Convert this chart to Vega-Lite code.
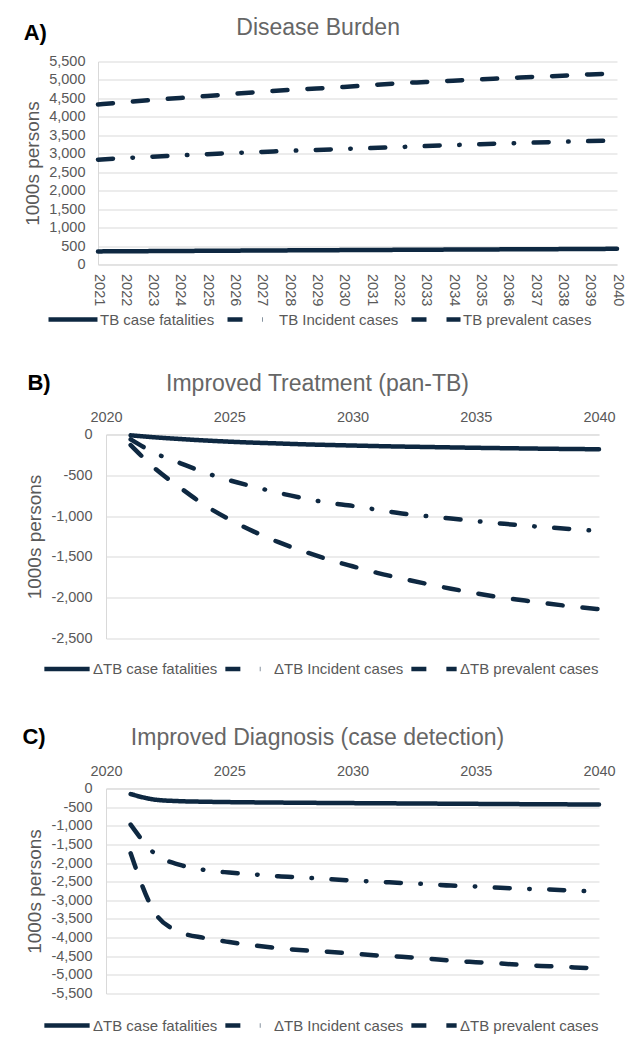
{
  "$schema": "https://vega.github.io/schema/vega-lite/v6.json",
  "background": "white",
  "padding": {"left": 22, "top": 16.5, "right": 5, "bottom": 0},
  "datasets": {
    "A": [
      {"year": 2021, "TB case fatalities": 355, "TB Incident cases": 2840, "TB prevalent cases": 4336},
      {"year": 2022, "TB case fatalities": 359, "TB Incident cases": 2885, "TB prevalent cases": 4400},
      {"year": 2023, "TB case fatalities": 363, "TB Incident cases": 2920, "TB prevalent cases": 4460},
      {"year": 2024, "TB case fatalities": 367, "TB Incident cases": 2955, "TB prevalent cases": 4510},
      {"year": 2025, "TB case fatalities": 371, "TB Incident cases": 2990, "TB prevalent cases": 4565},
      {"year": 2026, "TB case fatalities": 375, "TB Incident cases": 3020, "TB prevalent cases": 4625},
      {"year": 2027, "TB case fatalities": 379, "TB Incident cases": 3050, "TB prevalent cases": 4680},
      {"year": 2028, "TB case fatalities": 383, "TB Incident cases": 3080, "TB prevalent cases": 4730},
      {"year": 2029, "TB case fatalities": 387, "TB Incident cases": 3105, "TB prevalent cases": 4770},
      {"year": 2030, "TB case fatalities": 390, "TB Incident cases": 3130, "TB prevalent cases": 4810},
      {"year": 2031, "TB case fatalities": 394, "TB Incident cases": 3155, "TB prevalent cases": 4860},
      {"year": 2032, "TB case fatalities": 397, "TB Incident cases": 3180, "TB prevalent cases": 4910},
      {"year": 2033, "TB case fatalities": 401, "TB Incident cases": 3210, "TB prevalent cases": 4945},
      {"year": 2034, "TB case fatalities": 404, "TB Incident cases": 3235, "TB prevalent cases": 4980},
      {"year": 2035, "TB case fatalities": 407, "TB Incident cases": 3260, "TB prevalent cases": 5015},
      {"year": 2036, "TB case fatalities": 411, "TB Incident cases": 3280, "TB prevalent cases": 5050},
      {"year": 2037, "TB case fatalities": 414, "TB Incident cases": 3305, "TB prevalent cases": 5085},
      {"year": 2038, "TB case fatalities": 417, "TB Incident cases": 3325, "TB prevalent cases": 5115},
      {"year": 2039, "TB case fatalities": 421, "TB Incident cases": 3345, "TB prevalent cases": 5150},
      {"year": 2040, "TB case fatalities": 425, "TB Incident cases": 3360, "TB prevalent cases": 5170}
    ],
    "B": [
      {"year": 2021, "ΔTB case fatalities": -10, "ΔTB Incident cases": -60, "ΔTB prevalent cases": -130},
      {"year": 2022, "ΔTB case fatalities": -35, "ΔTB Incident cases": -230, "ΔTB prevalent cases": -420},
      {"year": 2023, "ΔTB case fatalities": -55, "ΔTB Incident cases": -350, "ΔTB prevalent cases": -650},
      {"year": 2024, "ΔTB case fatalities": -73, "ΔTB Incident cases": -465, "ΔTB prevalent cases": -865},
      {"year": 2025, "ΔTB case fatalities": -88, "ΔTB Incident cases": -560, "ΔTB prevalent cases": -1040},
      {"year": 2026, "ΔTB case fatalities": -100, "ΔTB Incident cases": -640, "ΔTB prevalent cases": -1190},
      {"year": 2027, "ΔTB case fatalities": -110, "ΔTB Incident cases": -715, "ΔTB prevalent cases": -1320},
      {"year": 2028, "ΔTB case fatalities": -120, "ΔTB Incident cases": -780, "ΔTB prevalent cases": -1430},
      {"year": 2029, "ΔTB case fatalities": -128, "ΔTB Incident cases": -835, "ΔTB prevalent cases": -1530},
      {"year": 2030, "ΔTB case fatalities": -135, "ΔTB Incident cases": -875, "ΔTB prevalent cases": -1615},
      {"year": 2031, "ΔTB case fatalities": -142, "ΔTB Incident cases": -922, "ΔTB prevalent cases": -1695},
      {"year": 2032, "ΔTB case fatalities": -148, "ΔTB Incident cases": -968, "ΔTB prevalent cases": -1765},
      {"year": 2033, "ΔTB case fatalities": -153, "ΔTB Incident cases": -1000, "ΔTB prevalent cases": -1830},
      {"year": 2034, "ΔTB case fatalities": -158, "ΔTB Incident cases": -1030, "ΔTB prevalent cases": -1890},
      {"year": 2035, "ΔTB case fatalities": -163, "ΔTB Incident cases": -1062, "ΔTB prevalent cases": -1945},
      {"year": 2036, "ΔTB case fatalities": -167, "ΔTB Incident cases": -1090, "ΔTB prevalent cases": -1995},
      {"year": 2037, "ΔTB case fatalities": -171, "ΔTB Incident cases": -1117, "ΔTB prevalent cases": -2035},
      {"year": 2038, "ΔTB case fatalities": -175, "ΔTB Incident cases": -1140, "ΔTB prevalent cases": -2075},
      {"year": 2039, "ΔTB case fatalities": -178, "ΔTB Incident cases": -1162, "ΔTB prevalent cases": -2110},
      {"year": 2040, "ΔTB case fatalities": -181, "ΔTB Incident cases": -1182, "ΔTB prevalent cases": -2140}
    ],
    "C": [
      {"year": 2021, "ΔTB case fatalities": -150, "ΔTB Incident cases": -970, "ΔTB prevalent cases": -1740},
      {"year": 2022, "ΔTB case fatalities": -300, "ΔTB Incident cases": -1760, "ΔTB prevalent cases": -3350},
      {"year": 2023, "ΔTB case fatalities": -340, "ΔTB Incident cases": -2050, "ΔTB prevalent cases": -3850},
      {"year": 2024, "ΔTB case fatalities": -355, "ΔTB Incident cases": -2185, "ΔTB prevalent cases": -4010},
      {"year": 2025, "ΔTB case fatalities": -365, "ΔTB Incident cases": -2255, "ΔTB prevalent cases": -4120},
      {"year": 2026, "ΔTB case fatalities": -372, "ΔTB Incident cases": -2305, "ΔTB prevalent cases": -4210},
      {"year": 2027, "ΔTB case fatalities": -378, "ΔTB Incident cases": -2355, "ΔTB prevalent cases": -4285},
      {"year": 2028, "ΔTB case fatalities": -383, "ΔTB Incident cases": -2390, "ΔTB prevalent cases": -4340},
      {"year": 2029, "ΔTB case fatalities": -388, "ΔTB Incident cases": -2430, "ΔTB prevalent cases": -4380},
      {"year": 2030, "ΔTB case fatalities": -392, "ΔTB Incident cases": -2470, "ΔTB prevalent cases": -4430},
      {"year": 2031, "ΔTB case fatalities": -396, "ΔTB Incident cases": -2500, "ΔTB prevalent cases": -4480},
      {"year": 2032, "ΔTB case fatalities": -400, "ΔTB Incident cases": -2535, "ΔTB prevalent cases": -4515},
      {"year": 2033, "ΔTB case fatalities": -404, "ΔTB Incident cases": -2565, "ΔTB prevalent cases": -4560},
      {"year": 2034, "ΔTB case fatalities": -408, "ΔTB Incident cases": -2605, "ΔTB prevalent cases": -4620},
      {"year": 2035, "ΔTB case fatalities": -412, "ΔTB Incident cases": -2630, "ΔTB prevalent cases": -4660},
      {"year": 2036, "ΔTB case fatalities": -416, "ΔTB Incident cases": -2665, "ΔTB prevalent cases": -4695},
      {"year": 2037, "ΔTB case fatalities": -420, "ΔTB Incident cases": -2690, "ΔTB prevalent cases": -4740},
      {"year": 2038, "ΔTB case fatalities": -423, "ΔTB Incident cases": -2710, "ΔTB prevalent cases": -4770},
      {"year": 2039, "ΔTB case fatalities": -427, "ΔTB Incident cases": -2740, "ΔTB prevalent cases": -4800},
      {"year": 2040, "ΔTB case fatalities": -430, "ΔTB Incident cases": -2770, "ΔTB prevalent cases": -4830}
    ]
  },
  "config": {
    "font": "Liberation Sans",
    "locale": {"number": {"decimal": ".", "thousands": ",", "grouping": [3], "currency": ["$", ""], "minus": "-"}},
    "view": {"stroke": null},
    "axis": {
      "gridColor": "#d9d9d9", "gridWidth": 1, "domainColor": "#d9d9d9", "domainWidth": 1,
      "ticks": false, "labelColor": "#595959", "labelFont": "Liberation Sans", "labelFontSize": 14.5,
      "titleColor": "#595959", "titleFont": "Liberation Sans", "titleFontSize": 19, "titleFontWeight": "normal"
    },
    "legend": {
      "orient": "none", "direction": "horizontal", "title": null, "symbolType": "stroke", "symbolSize": 2050,
      "symbolStrokeWidth": 4.5, "symbolStrokeColor": "#0E2841", "labelFont": "Liberation Sans",
      "labelFontSize": 15, "labelColor": "#595959", "columnPadding": 5, "labelOffset": 1, "padding": 0
    },
    "title": {"font": "Liberation Sans"},
    "line": {"strokeCap": "round", "strokeJoin": "round", "strokeWidth": 4.5, "color": "#0E2841", "interpolate": "monotone"}
  },
  "columns": 1,
  "align": "none",
  "spacing": 44,
  "resolve": {"scale": {"strokeDash": "independent", "x": "independent", "y": "independent"}, "legend": {"strokeDash": "independent"}},
  "concat": [
    {
      "title": {"text": "A)", "anchor": "start", "frame": "bounds", "fontSize": 22, "fontWeight": "bold", "color": "#000000", "offset": -28, "dx": 0.5},
      "vconcat": [
        {
          "title": {"text": "Disease Burden", "anchor": "middle", "frame": "bounds", "fontSize": 23, "fontWeight": "normal", "color": "#666666", "offset": 13.5, "dx": -6},
          "width": 511, "height": 203,
          "data": {"name": "A"},
          "transform": [{"fold": ["TB case fatalities", "TB Incident cases", "TB prevalent cases"], "as": ["series", "value"]}],
          "mark": {"type": "line"},
          "encoding": {
            "x": {"field": "year", "type": "ordinal", "scale": {"type": "point", "padding": 0, "range": [-8, 511]},
                  "axis": {"title": null, "labelAngle": 90, "labelPadding": 9, "grid": false, "domain": true}},
            "y": {"field": "value", "type": "quantitative", "scale": {"domain": [0, 5500]},
                  "axis": {"title": "1000s persons", "offset": 8, "values": [0, 500, 1000, 1500, 2000, 2500, 3000, 3500, 4000, 4500, 5000, 5500], "format": ",.0f", "labelPadding": 13, "titlePadding": 6.5, "domain": true}},
            "strokeDash": {"field": "series", "type": "nominal",
                  "scale": {"domain": ["TB case fatalities", "TB Incident cases", "TB prevalent cases"], "range": [[1, 0], [15, 19.5, 0.5, 19.5], [15, 20]]},
                  "legend": {"legendX": -60, "legendY": 231, "symbolSize": 2400, "columnPadding": 10, "labelOffset": 0}}
          }
        }
      ]
    },
    {
      "title": {"text": "B)", "anchor": "start", "frame": "bounds", "fontSize": 22, "fontWeight": "bold", "color": "#000000", "offset": -22, "dx": 1.5},
      "vconcat": [
        {
          "title": {"text": "Improved Treatment (pan-TB)", "anchor": "middle", "frame": "bounds", "fontSize": 23, "fontWeight": "normal", "color": "#666666", "offset": 13, "dx": -3},
          "width": 493, "height": 204,
          "data": {"name": "B"},
          "transform": [{"fold": ["ΔTB case fatalities", "ΔTB Incident cases", "ΔTB prevalent cases"], "as": ["series", "value"]}],
          "mark": {"type": "line"},
          "encoding": {
            "x": {"field": "year", "type": "quantitative", "scale": {"domain": [2020, 2040], "nice": false, "zero": false},
                  "axis": {"title": null, "orient": "top", "values": [2020, 2025, 2030, 2035, 2040], "format": "d", "labelFlush": false, "labelPadding": 10.5, "grid": false, "domain": true}},
            "y": {"field": "value", "type": "quantitative", "scale": {"domain": [-2500, 0]},
                  "axis": {"title": "1000s persons", "values": [0, -500, -1000, -1500, -2000, -2500], "format": ",.0f", "labelPadding": 14, "titlePadding": 6, "domain": true}},
            "strokeDash": {"field": "series", "type": "nominal",
                  "scale": {"domain": ["ΔTB case fatalities", "ΔTB Incident cases", "ΔTB prevalent cases"], "range": [[1, 0], [15, 19.5, 0.5, 19.5], [15, 20]]},
                  "legend": {"legendX": -68, "legendY": 205.5, "padding": 4}}
          }
        }
      ]
    },
    {
      "title": {"text": "C)", "anchor": "start", "frame": "bounds", "fontSize": 22, "fontWeight": "bold", "color": "#000000", "offset": -22, "dx": -3.5},
      "vconcat": [
        {
          "title": {"text": "Improved Diagnosis (case detection)", "anchor": "middle", "frame": "bounds", "fontSize": 23, "fontWeight": "normal", "color": "#666666", "offset": 13.5, "dx": -3},
          "width": 493, "height": 205,
          "data": {"name": "C"},
          "transform": [{"fold": ["ΔTB case fatalities", "ΔTB Incident cases", "ΔTB prevalent cases"], "as": ["series", "value"]}],
          "mark": {"type": "line"},
          "encoding": {
            "x": {"field": "year", "type": "quantitative", "scale": {"domain": [2020, 2040], "nice": false, "zero": false},
                  "axis": {"title": null, "orient": "top", "values": [2020, 2025, 2030, 2035, 2040], "format": "d", "labelFlush": false, "labelPadding": 10.5, "grid": false, "domain": true}},
            "y": {"field": "value", "type": "quantitative", "scale": {"domain": [-5500, 0]},
                  "axis": {"title": "1000s persons", "values": [0, -500, -1000, -1500, -2000, -2500, -3000, -3500, -4000, -4500, -5000, -5500], "format": ",.0f", "labelPadding": 14, "titlePadding": 6, "domain": true}},
            "strokeDash": {"field": "series", "type": "nominal",
                  "scale": {"domain": ["ΔTB case fatalities", "ΔTB Incident cases", "ΔTB prevalent cases"], "range": [[1, 0], [15, 19.5, 0.5, 19.5], [15, 20]]},
                  "legend": {"legendX": -64, "legendY": 212}}
          }
        }
      ]
    }
  ]
}
